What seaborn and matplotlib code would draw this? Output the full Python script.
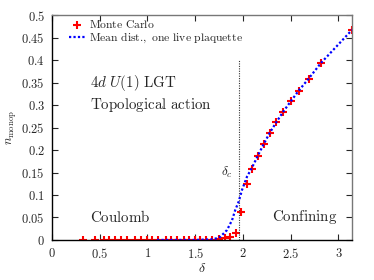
import numpy as np
import matplotlib
matplotlib.use("Agg")
import matplotlib.pyplot as plt
import seaborn as sns
from matplotlib.ticker import FuncFormatter, MultipleLocator

# =============================
# DATA
# =============================
delta_mc = [0.32, 0.45, 0.54, 0.60, 0.66, 0.72, 0.79, 0.87, 0.93, 0.99,
            1.05, 1.115, 1.19, 1.245, 1.31, 1.38, 1.44, 1.50, 1.553, 1.613,
            1.676, 1.745, 1.808, 1.868, 1.931, 1.98, 2.043, 2.093, 2.155,
            2.217, 2.28, 2.35, 2.421, 2.50, 2.584, 2.689, 2.819, 3.142]
n_mc = [0, 0, 0, 0, 0, 0, 0, 0, 0, 0,
        0, 0, 0, 0, 0, 0, 0, 0, 0, 0.0005,
        0.001, 0.002, 0.004, 0.007, 0.015, 0.062, 0.124, 0.157, 0.187,
        0.213, 0.238, 0.262, 0.285, 0.308, 0.332, 0.359, 0.394, 0.467]

delta_mean = [1.10, 1.50, 1.693, 1.763, 1.833, 1.886, 1.92, 1.955, 1.99,
              2.043, 2.093, 2.155, 2.217, 2.28, 2.35, 2.421, 2.50, 2.584,
              2.689, 2.819, 3.142]
n_mean = [0, 0, 0.0015, 0.007, 0.022, 0.044, 0.067, 0.085, 0.111,
          0.141, 0.16, 0.187, 0.213, 0.238, 0.262, 0.285, 0.308, 0.332,
          0.359, 0.394, 0.467]

delta_c = 1.955
x_ticks = [0, 0.5, 1, 1.5, 2, 2.5, 3]

# =============================
# STYLE
# =============================
sns.set_style("ticks")
plt.rcParams["mathtext.fontset"] = "cm"
plt.rcParams["font.family"] = ["DejaVu Serif"]

fig = plt.figure(figsize=(3.74, 2.8), dpi=100)
ax = fig.add_axes([0.139, 0.143, 0.802, 0.803])

# =============================
# PLOT
# =============================
sns.scatterplot(x=delta_mc, y=n_mc, ax=ax, color="red", marker="+", s=34,
                linewidth=1.5, label=r"$\mathrm{Monte\ Carlo}$", zorder=2)
sns.lineplot(x=delta_mean, y=n_mean, ax=ax, color="blue", linestyle=(0, (1, 1)),
             linewidth=1.6,
             label=r"$\mathrm{Mean\ dist.\!,\ one\ live\ plaquette}$",
             zorder=3)

ax.vlines(delta_c, 0, 0.4, colors="#333333", linestyles=(0, (1, 1.2)), linewidth=0.8)

ax.set_xlim(0, np.pi)
ax.set_ylim(0, 0.5)
ax.set_xticks(x_ticks)
ax.yaxis.set_major_locator(MultipleLocator(0.05))
fmt = FuncFormatter(lambda v, p: r"$%g$" % round(v, 3))
ax.xaxis.set_major_formatter(fmt)
ax.yaxis.set_major_formatter(fmt)
ax.tick_params(direction="in", top=True, right=True, length=4, width=0.8,
               labelsize=9, pad=5)

for side in ["top", "right"]:
    ax.spines[side].set_color("#777777")
for side in ["left", "bottom"]:
    ax.spines[side].set_color("black")
for s in ax.spines.values():
    s.set_linewidth(1.0)

ax.set_xlabel(r"$\delta$", fontsize=10)
ax.set_ylabel(r"$n_{\mathrm{monop}}$", fontsize=9)
ax.xaxis.set_label_coords(0.5, -0.095)
ax.yaxis.set_label_coords(-0.11, 0.5)

ax.text(0.4, 0.35, r"$4d\ U(1)\ \mathrm{LGT}$", fontsize=10.8, va="center")
ax.text(0.4, 0.30, r"$\mathrm{Topological\ action}$", fontsize=10.8, va="center")
ax.text(0.4, 0.052, r"$\mathrm{Coulomb}$", fontsize=10.8, va="center")
ax.text(2.305, 0.052, r"$\mathrm{Confining}$", fontsize=10.8, va="center")
ax.text(1.89, 0.151, r"$\delta_c$", fontsize=9.5, va="center", ha="right")

leg = ax.legend(loc="upper left", bbox_to_anchor=(0.035, 1.018), frameon=False,
                fontsize=8.4, handlelength=1.3, handletextpad=0.35,
                labelspacing=-0.05, borderaxespad=0.2)

fig.savefig("out.png", dpi=100)
